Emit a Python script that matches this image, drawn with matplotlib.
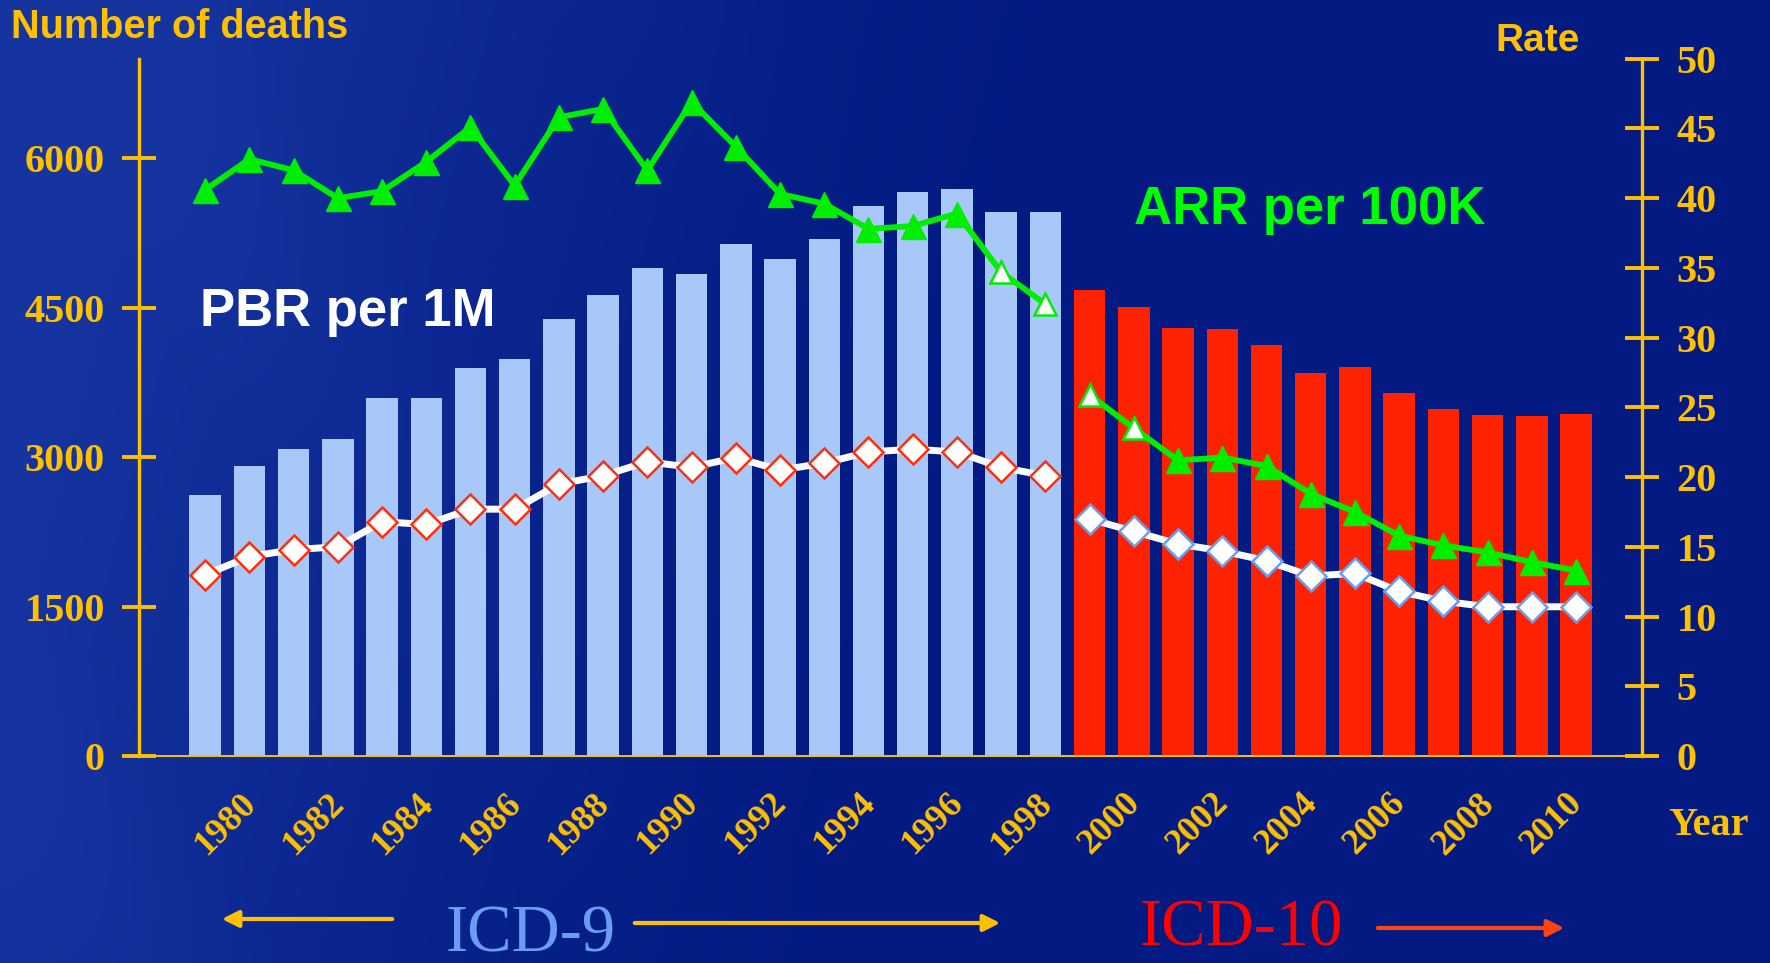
import numpy as np
import matplotlib
matplotlib.use("Agg")
import matplotlib.pyplot as plt
from matplotlib.transforms import offset_copy

# ---- data -------------------------------------------------------------
years = list(range(1979, 2011))
deaths = [2620, 2910, 3080, 3180, 3590, 3590, 3900, 3985, 4385, 4625,
          4900, 4840, 5135, 4990, 5190, 5520, 5665, 5690, 5465, 5460,
          4680, 4510, 4300, 4290, 4125, 3845, 3910, 3640, 3480, 3425,
          3410, 3435]
pbr_rate = [13.0, 14.3, 14.8, 15.0, 16.8, 16.6, 17.7, 17.7, 19.5, 20.1,
            21.1, 20.7, 21.4, 20.5, 21.0, 21.8, 22.0, 21.8, 20.7, 20.1,
            17.0, 16.1, 15.2, 14.7, 14.0, 12.9, 13.1, 11.8, 11.1, 10.7,
            10.7, 10.7]
arr_rate = [40.6, 42.8, 42.0, 40.0, 40.5, 42.6, 45.1, 40.9, 45.8, 46.4,
            42.0, 46.9, 43.7, 40.3, 39.6, 37.8, 38.0, 38.9, 34.7, 32.4,
            25.9, 23.5, 21.2, 21.4, 20.8, 18.8, 17.5, 15.8, 15.1, 14.6,
            13.9, 13.3]
icd9_last_year = 1998
hollow_arr_years = [1997, 1998, 1999, 2000]
left_ticks = [0, 1500, 3000, 4500, 6000]
right_ticks = list(range(0, 55, 5))
year_labels = list(range(1980, 2011, 2))

# ---- style ------------------------------------------------------------
GOLD = "#ffc000"
LIGHT_BLUE = "#a8c8fa"
RED = "#ff2200"
GREEN = "#00ee00"
SERIF = "Liberation Serif"
SANS = "Liberation Sans"

W, H = 1770, 963
fig = plt.figure(figsize=(W / 100, H / 100), dpi=100)

# background: deep blue with a lighter wash toward the left
bg = fig.add_axes([0, 0, 1, 1], zorder=-10)
yy, xx = np.mgrid[0:1:300j, 0:1:540j]
wash = np.clip(1 - xx / 0.55 + 0.25 * yy - 0.1, 0, 1) ** 1.4
wash += 0.12 * np.clip(np.sin((xx * 6 + yy * 2.2) * np.pi), 0, 1) * np.clip(1 - xx / 0.5, 0, 1)
wash = np.clip(wash, 0, 1)
dark = np.array([2, 26, 130]) / 255
light = np.array([22, 52, 160]) / 255
img = dark + wash[..., None] * (light - dark)
bg.imshow(img, aspect="auto", extent=[0, 1, 0, 1], origin="lower")
bg.axis("off")

# main axes
left, right, bottom, top = 138.8, 1642.4, 756.0, 58.7
ax = fig.add_axes([left / W, 1 - bottom / H, (right - left) / W, (bottom - top) / H])
ax.patch.set_alpha(0)
ax2 = ax.twinx()
ax2.patch.set_alpha(0)

yrs = np.array(years)
dth = np.array(deaths)
is9 = yrs <= icd9_last_year
ax.bar(yrs[is9], dth[is9], width=0.71, color=LIGHT_BLUE, zorder=2)
ax.bar(yrs[~is9], dth[~is9], width=0.71, color=RED, zorder=2)

ax.set_xlim(1977.5, 2011.5)
ax.set_ylim(0, 7000)
ax2.set_ylim(0, 50)

for a in (ax, ax2):
    for s in a.spines.values():
        s.set_visible(False)
ax.spines["left"].set_visible(True)
ax.spines["left"].set_color(GOLD)
ax.spines["left"].set_linewidth(2.4)
ax.spines["bottom"].set_visible(True)
ax.spines["bottom"].set_color(GOLD)
ax.spines["bottom"].set_linewidth(1.4)
ax2.spines["right"].set_visible(True)
ax2.spines["right"].set_color(GOLD)
ax2.spines["right"].set_linewidth(2.4)

ax.set_yticks(left_ticks)
ax.set_yticklabels([str(v) for v in left_ticks])
ax2.set_yticks(right_ticks)
ax2.set_yticklabels([str(v) for v in right_ticks])
ax.tick_params(axis="y", direction="inout", length=25, width=2.8, color=GOLD,
               labelcolor=GOLD, pad=12)
ax2.tick_params(axis="y", direction="inout", length=25, width=2.8, color=GOLD,
                labelcolor=GOLD, pad=12)
for lab in ax.get_yticklabels() + ax2.get_yticklabels():
    lab.set_fontfamily(SERIF)
    lab.set_fontweight("bold")
    lab.set_fontsize(29)
ax.tick_params(axis="x", length=0, labelbottom=False)

# rate lines, broken at the coding change
pbr = np.array(pbr_rate)
arr = np.array(arr_rate)
for mask in (is9, ~is9):
    ax2.plot(yrs[mask], arr[mask], color=GREEN, lw=4.2, zorder=3)
    ax2.plot(yrs[mask], pbr[mask], color="white", lw=5, zorder=3)

hollow = np.isin(yrs, hollow_arr_years)
ax2.plot(yrs[~hollow], arr[~hollow], ls="none", marker="^", ms=18,
         mfc=GREEN, mec=GREEN, zorder=4)
ax2.plot(yrs[hollow], arr[hollow], ls="none", marker="^", ms=16,
         mfc="white", mec=GREEN, mew=1.8, zorder=4)
ax2.plot(yrs[is9], pbr[is9], ls="none", marker="D", ms=15,
         mfc="white", mec="#ff3010", mew=1.8, zorder=4)
ax2.plot(yrs[~is9], pbr[~is9], ls="none", marker="D", ms=15,
         mfc="white", mec="#6a9cf0", mew=1.8, zorder=4)

# rotated year labels under the axis
lab_tr = offset_copy(ax.get_xaxis_transform(), fig=fig, x=-24, y=-68, units="dots")
for y in year_labels:
    ax.text(y, 0, str(y), transform=lab_tr, rotation=45, ha="center", va="center",
            rotation_mode="anchor", fontfamily=SERIF, fontweight="bold",
            fontsize=26, color=GOLD)

def px(x, y):
    return x / W, 1 - y / H

fig.text(*px(11, 38), "Number of deaths", ha="left", va="baseline",
         fontfamily=SANS, fontweight="bold", fontsize=28.5, color=GOLD)
fig.text(*px(1495, 51), "Rate", ha="left", va="baseline",
         fontfamily=SANS, fontweight="bold", fontsize=28, color=GOLD)
fig.text(*px(1668, 835), "Year", ha="left", va="baseline",
         fontfamily=SERIF, fontweight="bold", fontsize=29, color=GOLD)
fig.text(*px(200, 326), "PBR per 1M", ha="left", va="baseline",
         fontfamily=SANS, fontweight="bold", fontsize=38, color="white")
fig.text(*px(1134, 224), "ARR per 100K", ha="left", va="baseline",
         fontfamily=SANS, fontweight="bold", fontsize=38, color="#00ff00")
fig.text(*px(446, 951), "ICD-9", ha="left", va="baseline",
         fontfamily=SERIF, fontsize=48, color="#6a9cf4")
fig.text(*px(1140, 945), "ICD-10", ha="left", va="baseline",
         fontfamily=SERIF, fontsize=48, color="#ff0000")

def arrow(x0, x1, y, color):
    fig.add_artist(matplotlib.patches.FancyArrowPatch(
        px(x0, y), px(x1, y), transform=fig.transFigure,
        arrowstyle="-|>,head_length=10,head_width=5", mutation_scale=1,
        color=color, lw=3))

arrow(395, 219, 919, GOLD)
arrow(632, 1003, 923, GOLD)
arrow(1375, 1567, 928, "#ff4411")

fig.savefig("out.png", dpi=100)
